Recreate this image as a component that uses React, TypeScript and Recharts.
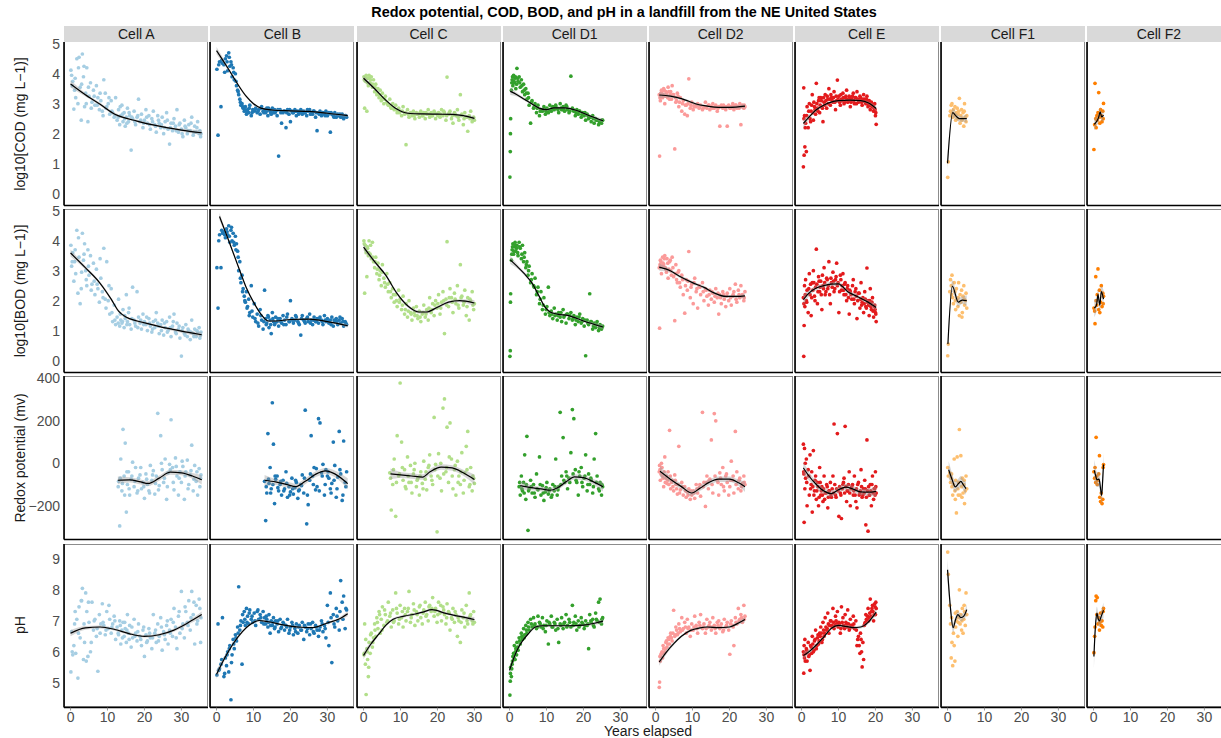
import React from 'react';
import { ComposedChart, Scatter, Line, Area, XAxis, YAxis } from 'recharts';

// [years elapsed, log10 COD, log10 BOD, redox (mv), pH]; null = not measured
type Sample = [number, number | null, number | null, number | null, number | null];
// [years elapsed, smoothed value, half-width of the confidence ribbon]
type TrendPoint = [number, number, number];

const FONT = '"Liberation Sans", Arial, Helvetica, sans-serif';

const cellNames = ['Cell A', 'Cell B', 'Cell C', 'Cell D1', 'Cell D2', 'Cell E', 'Cell F1', 'Cell F2'];
const cellColors = ['#A6CEE3', '#1F78B4', '#B2DF8A', '#33A02C', '#FB9A99', '#E31A1C', '#FDBF6F', '#FF7F00'];
const measureTitles = ['log10[COD (mg L\u22121)]', 'log10[BOD (mg L\u22121)]', 'Redox potential (mv)', 'pH'];
const measureDomains: [number, number][] = [[-0.4, 5.06], [-0.4, 5.06], [-359, 411], [4.2, 9.48]];
const measureTicks = [[0, 1, 2, 3, 4, 5], [0, 1, 2, 3, 4, 5], [-200, 0, 200, 400], [5, 6, 7, 8, 9]];
const yearTicks = [0, 10, 20, 30];
const yearDomain: [number, number] = [-1.77, 37.2];

const cellA: Sample[] = [
  [0.1, 4.12, 3.85, null, 5.35], [0.3, 3.95, 3.15, null, 6.65], [0.6, 3.75, 3.6, null, 5.9], [0.9, 2.82, 2.65, null, 6.2],
  [1.1, 3.45, 3.3, null, 6.9], [1.4, 3.2, 2.9, null, 5.95], [1.7, 4.5, 4.35, null, 7.05], [2.0, 3.0, 2.25, null, 5.15],
  [2.3, 4.55, 3.45, null, 7.45], [2.6, 3.55, 1.9, null, 6.45], [2.9, 2.45, 2.4, null, 7.65], [3.2, 4.66, 4.25, null, 8.05],
  [3.5, 3.9, 3.35, null, 5.75], [3.8, 2.9, 3.9, null, 6.3], [4.1, 3.35, 3.0, null, 7.9], [4.4, 4.2, 2.5, null, 7.3],
  [4.7, 2.4, 3.7, null, 5.85], [5.0, 3.25, 2.85, null, 6.95], [5.4, 3.7, 3.5, null, 6.0], [5.8, 3.05, 2.55, null, 7.6],
  [6.2, 3.45, 3.25, null, 6.7], [6.6, 2.95, 2.2, null, 7.05], [7.0, 3.6, 3.05, null, 6.5], [7.4, 3.2, 2.4, null, 5.37],
  [7.8, 2.8, 1.95, null, 7.2], [8.2, 3.1, 2.75, null, 6.9], [8.6, 2.75, 2.3, null, 7.55], [9.0, 3.8, 3.75, null, 6.85],
  [9.4, 3.35, 2.05, null, 6.55], [9.8, 2.9, 3.3, null, 7.3], [10.2, 3.0, 2.0, null, 6.75], [10.6, 2.65, 1.55, null, 7.05],
  [11.0, 3.1, 2.4, null, 6.6], [11.4, 2.7, 1.3, null, 6.9], [11.8, 2.55, 1.85, null, 7.15], [12.2, 3.2, 1.2, null, 6.4],
  [12.6, 2.45, 1.45, null, 6.8], [13.0, 2.8, 2.05, -85, 6.55], [13.3, 2.3, 1.15, -295, 7.0], [13.6, 2.6, 1.35, 20, 6.25],
  [13.9, 2.95, 1.25, -130, 6.7], [14.2, 2.4, 1.7, 160, 6.95], [14.5, 2.7, 1.1, -60, 6.5], [14.8, 2.25, 1.4, 95, 6.75],
  [15.1, 2.55, 2.2, -230, 6.3], [15.4, 2.85, 1.3, -100, 7.2], [15.7, 2.4, 1.6, -40, 6.6], [16.0, 2.6, 1.2, -150, 6.85],
  [16.4, 1.45, 1.05, -75, 6.15], [16.8, 2.5, 2.45, 5, 6.45], [17.2, 2.75, 1.35, -110, 7.05], [17.6, 2.3, 1.15, -20, 6.6],
  [18.0, 2.55, 2.3, -140, 6.35], [18.4, 3.15, 1.45, -70, 6.9], [18.8, 2.4, 1.25, -55, 6.5], [19.2, 2.65, 1.05, -120, 6.2],
  [19.6, 2.2, 1.55, -90, 6.7], [20.0, 2.45, 1.3, -165, 5.85], [20.4, 2.8, 1.2, -50, 6.55], [20.8, 2.35, 1.0, -100, 6.35],
  [21.2, 2.6, 1.4, -130, 6.75], [21.6, 2.15, 1.15, -10, 6.45], [22.0, 2.5, 0.95, -80, 6.1], [22.4, 2.75, 1.3, -35, 7.2],
  [22.8, 2.3, 1.1, -145, 6.6], [23.2, 2.05, 1.6, -60, 6.3], [23.6, 2.6, 1.25, 235, 6.9], [24.0, 2.35, 0.9, -105, 6.5],
  [24.4, 2.2, 1.2, 130, 7.1], [24.8, 2.55, 1.35, -30, 6.05], [25.2, 2.0, 0.85, -90, 6.65], [25.6, 2.4, 1.1, 20, 6.4],
  [26.0, 2.7, 1.3, -170, 6.85], [26.4, 2.15, 1.0, -45, 6.25], [26.8, 1.65, 1.45, -5, 6.7], [27.2, 2.35, 0.8, 205, 7.05],
  [27.6, 2.1, 1.15, -20, 6.5], [28.0, 2.5, 1.55, -125, 7.4], [28.4, 2.25, 0.95, 25, 6.8], [28.8, 2.8, 1.25, -60, 6.1],
  [29.2, 2.05, 1.05, -150, 7.15], [29.6, 2.35, 0.75, -40, 6.6], [30.0, 2.15, 0.15, -90, 7.95], [30.4, 1.9, 1.1, -15, 6.9],
  [30.8, 2.45, 0.9, -170, 6.45], [31.2, 2.2, 1.2, -40, 7.3], [31.6, 2.0, 0.8, 15, 6.95], [32.0, 2.3, 1.0, -100, 7.65],
  [32.4, 2.1, 0.7, -55, 6.7], [32.8, 2.55, 1.35, 85, 7.95], [33.2, 1.95, 0.9, -130, 7.2], [33.6, 2.25, 1.05, -10, 6.25],
  [34.0, 2.05, 0.8, -85, 7.5], [34.4, 2.4, 0.95, -150, 7.0], [34.8, 2.0, 1.1, -25, 7.7], [35.2, 1.9, 0.85, -70, 6.3],
  [0.45, 3.6, 3.3, null, 6.0], [1.25, 3.85, 3.7, null, 7.3], [2.15, 4.2, 4.1, null, 6.6], [3.0, 3.65, 2.95, null, 7.65],
  [3.65, 4.25, 3.55, null, 6.9], [4.25, 3.0, 2.7, null, 5.7], [4.85, 3.55, 3.15, null, 7.6], [5.6, 2.85, 2.35, null, 6.3],
  [6.4, 3.25, 2.65, null, 7.0], [7.2, 2.95, 2.55, null, 6.75], [8.0, 3.35, 3.4, null, 6.6], [8.8, 2.6, 2.1, null, 6.95],
  [9.6, 2.85, 1.75, null, 6.7], [10.4, 3.2, 2.5, null, 7.5], [11.2, 2.75, 1.6, null, 6.8], [12.0, 2.6, 1.35, null, 7.0],
  [12.9, 2.55, 1.25, -110, 6.6], [13.45, 2.9, 1.55, -70, 6.85], [14.05, 2.65, 1.3, -95, 6.45], [14.65, 2.5, 1.5, -150, 6.95],
  [15.25, 2.35, 1.2, -40, 6.7], [15.85, 2.7, 1.75, -120, 6.4], [16.6, 2.55, 1.4, -60, 6.8], [17.4, 2.4, 1.25, -85, 6.5],
  [18.2, 2.6, 1.1, -130, 6.65], [19.0, 2.45, 1.35, -20, 6.4], [19.8, 2.35, 1.2, -110, 6.8], [20.6, 2.55, 1.45, -75, 6.3],
  [21.4, 2.3, 1.25, -140, 6.6], [22.2, 2.4, 1.05, -55, 6.45], [23.0, 2.25, 1.35, -95, 6.7], [23.8, 2.45, 1.15, -125, 6.35],
  [24.6, 2.3, 1.0, 0, 6.8], [25.4, 2.2, 1.25, -70, 6.55], [26.2, 2.45, 0.95, -110, 7.0], [27.0, 2.2, 1.1, -30, 6.6],
  [27.8, 2.35, 1.3, -90, 6.95], [28.6, 2.1, 0.9, -15, 6.45], [29.4, 2.3, 1.15, -70, 7.3], [30.2, 2.0, 1.0, 10, 6.75],
  [31.0, 2.25, 0.85, -60, 7.45], [31.8, 2.1, 1.05, -120, 6.85], [32.6, 2.35, 0.95, -35, 7.1], [33.4, 2.05, 0.8, -75, 7.6],
  [34.2, 2.2, 1.0, -40, 6.9], [35.0, 2.1, 0.75, -110, 7.4], [35.3, 2.0, 0.95, -55, 7.1],
];

const cellB: Sample[] = [
  [0.1, 4.15, 3.1, null, 5.25], [0.4, 1.95, 1.75, null, 6.9], [0.8, 4.4, 4.2, null, 5.45], [1.2, 2.9, 3.1, null, 5.6],
  [1.6, 4.35, 4.25, null, 7.1], [2.0, 4.3, 4.3, null, 5.2], [2.4, 4.5, 4.1, null, 5.8], [2.7, 4.6, 4.4, null, 5.55],
  [3.0, 4.1, 4.2, null, 6.0], [3.3, 4.7, 4.5, null, 5.35], [3.6, 4.25, 3.95, null, 6.2], [3.9, 4.4, 4.35, null, 4.45],
  [4.2, 3.9, 4.0, null, 5.9], [4.5, 4.2, 4.25, null, 6.4], [4.8, 3.8, 3.85, null, 6.1], [5.1, 4.0, 4.15, null, 6.55],
  [5.4, 3.6, 3.9, null, 6.35], [5.7, 3.45, 3.65, null, 6.8], [6.0, 3.3, 3.0, null, 8.1], [6.3, 3.15, 3.3, null, 6.7],
  [6.6, 2.95, 2.6, null, 7.0], [6.9, 3.0, 2.85, null, 5.6], [7.2, 2.85, 2.4, null, 6.95], [7.5, 2.75, 2.15, null, 7.3],
  [7.8, 2.9, 1.95, null, 6.85], [8.1, 2.65, 2.3, null, 7.4], [8.4, 2.8, 1.8, null, 7.15], [8.7, 2.7, 2.05, null, 6.9],
  [9.0, 2.95, 1.6, null, 7.35], [9.4, 2.6, 2.5, null, 7.05], [9.8, 2.8, 1.45, null, 6.95], [10.2, 2.75, 1.9, null, 7.25],
  [10.6, 2.85, 1.3, null, 6.85], [11.0, 2.7, 1.55, null, 7.3], [11.4, 2.8, 1.15, null, 7.05], [11.8, 2.65, 1.7, null, 7.2],
  [12.2, 2.9, 1.35, null, 6.95], [12.6, 2.75, 1.05, null, 7.3], [13.0, 2.8, 2.35, -85, 7.1], [13.3, 2.7, 1.4, -270, 6.9],
  [13.6, 2.85, 1.25, -140, 7.05], [13.9, 2.6, 1.5, 140, 6.8], [14.2, 2.8, 1.1, -95, 7.2], [14.5, 2.75, 1.35, -20, 6.6],
  [14.8, 2.65, 0.9, -120, 7.0], [15.1, 2.85, 1.6, 285, 6.85], [15.4, 2.7, 1.3, 90, 7.1], [15.7, 2.8, 1.2, -190, 6.75],
  [16.0, 2.75, 1.45, -75, 7.0], [16.4, 2.6, 1.3, -60, 6.9], [16.8, 1.25, 1.15, -130, 6.65], [17.2, 2.8, 1.4, -100, 7.05],
  [17.6, 2.35, 1.25, -150, 6.8], [18.0, 2.7, 1.5, -80, 6.95], [18.4, 2.75, 1.35, -120, 6.7], [18.8, 2.2, 1.2, -40, 6.85],
  [19.2, 2.8, 1.55, -160, 7.05], [19.6, 2.65, 1.3, -110, 6.6], [20.0, 2.4, 2.0, -135, 6.8], [20.4, 2.75, 1.4, -70, 6.95],
  [20.8, 2.7, 1.25, -145, 6.55], [21.2, 2.8, 1.35, -115, 6.75], [21.6, 2.6, 1.45, -90, 6.9], [22.0, 2.75, 1.3, -165, 6.6],
  [22.4, 2.7, 1.2, -125, 6.85], [22.8, 2.8, 0.85, -100, 6.7], [23.2, 2.65, 1.5, -55, 6.95], [23.6, 2.75, 1.35, -140, 6.4],
  [24.0, 2.7, 1.25, 250, 6.8], [24.4, 2.6, 1.4, -285, 6.65], [24.8, 2.75, 1.3, -195, 6.9], [25.2, 2.8, 1.55, -80, 6.55],
  [25.6, 2.7, 1.35, 130, 6.75], [26.0, 2.65, 1.2, -60, 6.95], [26.4, 2.75, 1.45, -20, 6.6], [26.8, 2.55, 1.3, -125, 6.85],
  [27.2, 2.1, 1.4, -110, 6.7], [27.6, 2.7, 1.25, 210, 6.5], [28.0, 2.75, 1.45, 190, 6.8], [28.4, 2.6, 1.35, -45, 7.0],
  [28.8, 2.7, 1.2, -5, 6.65], [29.2, 2.65, 1.5, -150, 6.85], [29.6, 2.75, 1.3, -30, 6.45], [30.0, 2.6, 1.4, -60, 7.5],
  [30.4, 2.7, 1.25, -70, 6.2], [30.8, 2.05, 1.35, -120, 7.9], [31.2, 2.65, 1.45, -95, 5.65], [31.6, 2.6, 1.15, 100, 7.2],
  [32.0, 2.7, 1.3, -10, 6.8], [32.4, 2.55, 1.4, -160, 7.4], [32.8, 2.65, 1.2, -65, 7.0], [33.2, 2.6, 1.35, 150, 6.7],
  [33.6, 2.55, 1.25, -50, 8.3], [34.0, 2.65, 1.4, -175, 7.6], [34.4, 2.5, 1.15, 105, 7.8], [34.8, 2.6, 1.3, -90, 6.75],
  [35.2, 2.55, 1.2, -40, 7.35],
  [0.6, 4.3, 4.0, null, 5.4], [1.4, 4.45, 4.35, null, 5.75], [2.2, 4.05, 4.2, null, 5.3], [2.85, 4.4, 4.3, null, 5.9],
  [3.45, 4.55, 4.15, null, 6.1], [4.05, 4.3, 4.45, null, 5.65], [4.65, 4.05, 3.95, null, 6.25], [5.25, 3.75, 3.7, null, 6.45],
  [5.85, 3.4, 3.45, null, 6.6], [6.45, 3.05, 2.75, null, 6.85], [7.05, 2.9, 2.3, null, 7.2], [7.65, 2.8, 2.0, null, 7.05],
  [8.25, 2.7, 1.75, null, 6.95], [8.85, 2.85, 1.5, null, 7.25], [9.6, 2.7, 1.65, null, 7.15], [10.4, 2.8, 1.4, null, 7.0],
  [11.2, 2.75, 1.25, null, 7.35], [12.0, 2.85, 1.5, null, 7.1], [12.8, 2.7, 1.3, null, 6.9], [13.45, 2.75, 1.2, -110, 7.15],
  [14.05, 2.85, 1.45, -75, 6.95], [14.65, 2.7, 1.2, -140, 6.85], [15.25, 2.8, 1.4, -100, 6.95], [15.85, 2.7, 1.25, -60, 6.8],
  [16.6, 2.8, 1.4, -115, 7.0], [17.4, 2.7, 1.3, -85, 6.75], [18.2, 2.75, 1.2, -130, 6.9], [19.0, 2.7, 1.45, -95, 6.8],
  [19.8, 2.8, 1.3, -150, 6.7], [20.6, 2.7, 1.35, -120, 6.85], [21.4, 2.75, 1.5, -80, 6.65], [22.2, 2.65, 1.25, -130, 6.8],
  [23.0, 2.75, 1.4, -105, 6.7], [23.8, 2.7, 1.3, -70, 6.85], [24.6, 2.8, 1.45, -150, 6.75], [25.4, 2.65, 1.25, -50, 6.9],
  [26.2, 2.75, 1.35, -100, 6.65], [27.0, 2.7, 1.3, -25, 6.8], [27.8, 2.65, 1.4, -130, 6.7], [28.6, 2.7, 1.3, -60, 6.9],
  [29.4, 2.6, 1.35, -100, 6.75], [30.2, 2.65, 1.3, -40, 6.95], [31.0, 2.7, 1.2, -140, 7.1], [31.8, 2.55, 1.35, -80, 6.9],
  [32.6, 2.6, 1.3, -120, 7.15], [33.4, 2.65, 1.45, -30, 7.3], [34.2, 2.55, 1.3, -150, 7.05], [35.0, 2.6, 1.25, -110, 7.4],
];

const cellC: Sample[] = [
  [0.1, 3.9, 4.0, null, 5.9], [0.3, 2.85, 2.25, null, 6.9], [0.5, 3.75, 3.85, null, 5.6], [0.7, 3.95, 3.6, null, 4.62],
  [0.9, 2.75, 2.8, null, 6.1], [1.1, 3.85, 3.75, null, 5.75], [1.3, 3.6, 3.5, null, 5.2], [1.5, 3.95, 4.0, null, 6.3],
  [1.8, 3.7, 3.55, null, 5.95], [2.1, 3.9, 3.4, null, 6.6], [2.4, 3.55, 3.95, null, 6.15], [2.7, 3.8, 3.3, null, 6.45],
  [3.0, 3.4, 3.1, null, 6.9], [3.3, 3.65, 3.45, null, 6.5], [3.6, 3.3, 2.9, null, 7.1], [3.9, 3.5, 3.25, null, 6.75],
  [4.2, 3.2, 2.7, null, 7.3], [4.5, 3.45, 3.0, null, 6.6], [4.8, 3.1, 2.5, null, 7.05], [5.1, 3.35, 3.2, null, 7.45],
  [5.5, 3.0, 2.75, null, 6.85], [5.9, 3.25, 2.45, null, 7.2], [6.3, 3.05, 2.9, null, 6.95], [6.7, 2.95, 2.3, null, 7.6],
  [7.1, 3.15, 2.6, -45, 7.15], [7.5, 2.85, 2.1, -220, 6.8], [7.9, 3.0, 2.4, -100, 7.35], [8.3, 2.8, 1.95, 20, 7.0],
  [8.7, 2.95, 2.2, -250, 7.9], [9.1, 2.7, 1.8, 130, 7.25], [9.5, 2.85, 2.35, -60, 6.9], [9.9, 2.75, 2.05, 378, 7.5],
  [10.3, 2.6, 1.7, 100, 7.1], [10.7, 2.9, 2.15, -80, 6.8], [11.1, 2.65, 1.55, -30, 7.4], [11.5, 1.63, 1.9, -120, 7.0],
  [11.9, 2.8, 1.45, 30, 7.3], [12.3, 2.55, 2.0, -90, 7.95], [12.7, 2.7, 1.6, -10, 6.95], [13.1, 2.6, 1.35, -140, 7.2],
  [13.5, 2.75, 1.75, -50, 7.55], [13.9, 2.5, 1.5, 0, 6.85], [14.3, 2.7, 1.8, -110, 7.3], [14.7, 2.65, 1.4, -70, 7.0],
  [15.1, 2.55, 1.65, -150, 7.45], [15.5, 2.75, 1.3, -40, 7.1], [15.9, 2.6, 1.55, -95, 6.9], [16.3, 2.7, 1.85, 10, 7.35],
  [16.7, 2.5, 1.45, -75, 7.6], [17.1, 2.65, 1.7, -125, 7.2], [17.5, 2.8, 1.35, -20, 7.0], [17.9, 2.55, 2.1, 40, 7.5],
  [18.3, 2.7, 1.6, -60, 7.3], [18.7, 2.6, 1.9, -100, 7.75], [19.1, 2.75, 1.5, 216, 7.15], [19.5, 2.5, 2.0, -5, 7.4],
  [19.9, 2.65, 1.75, -323, 6.95], [20.3, 2.7, 2.2, 45, 7.6], [20.7, 2.55, 1.55, -70, 7.25], [21.1, 2.8, 1.95, -130, 7.0],
  [21.5, 2.6, 2.3, 260, 7.45], [21.9, 2.7, 0.9, 303, 7.2], [22.3, 2.45, 2.05, -40, 6.9], [22.6, 3.89, 3.97, 170, 7.55],
  [23.0, 2.65, 1.8, -90, 7.3], [23.4, 2.75, 2.4, 190, 6.7], [23.8, 2.5, 2.1, 20, 7.1], [24.2, 2.35, 1.6, -120, 7.4],
  [24.6, 2.7, 2.25, -30, 6.95], [25.0, 2.6, 1.9, -150, 7.2], [25.4, 2.8, 2.5, 10, 6.5], [25.8, 2.45, 1.75, -60, 7.0],
  [26.2, 3.3, 3.2, -100, 6.3], [26.6, 2.65, 2.15, 50, 7.35], [27.0, 2.3, 1.85, -140, 7.1], [27.4, 2.7, 2.35, -45, 6.8],
  [27.8, 2.55, 1.5, 80, 7.5], [28.2, 2.08, 2.1, 150, 6.9], [28.6, 2.6, 1.35, -110, 7.9], [29.0, 2.75, 2.0, -20, 7.2],
  [29.4, 2.4, 2.3, -130, 7.0], [29.8, 2.55, 1.7, -70, 7.3], [30.0, 2.45, 1.9, -95, 6.95],
  [0.2, 3.8, 3.9, null, 5.95], [0.6, 3.9, 3.7, null, 6.4], [1.0, 3.7, 3.8, null, 6.0], [1.4, 3.85, 3.6, null, 5.5],
  [1.9, 3.8, 3.85, null, 6.55], [2.5, 3.65, 3.45, null, 6.3], [3.1, 3.55, 3.3, null, 6.7], [3.75, 3.35, 3.05, null, 6.95],
  [4.35, 3.3, 2.85, null, 7.2], [5.0, 3.2, 2.95, null, 6.7], [5.7, 3.15, 2.6, null, 7.35], [6.5, 3.0, 2.55, null, 7.0],
  [7.3, 2.9, 2.3, -70, 7.25], [8.1, 2.85, 2.2, -30, 6.95], [8.9, 2.8, 2.0, -90, 7.4], [9.7, 2.7, 1.95, -50, 7.05],
  [10.5, 2.75, 1.85, -20, 7.3], [11.3, 2.7, 1.7, -110, 7.2], [12.1, 2.65, 1.65, -60, 7.4], [12.9, 2.7, 1.55, -90, 7.1],
  [13.7, 2.6, 1.6, -30, 7.35], [14.5, 2.65, 1.5, -80, 7.2], [15.3, 2.7, 1.45, -60, 7.5], [16.1, 2.6, 1.6, -120, 7.25],
  [16.9, 2.7, 1.55, -40, 7.15], [17.7, 2.65, 1.75, -10, 7.45], [18.5, 2.6, 1.7, -80, 7.4], [19.3, 2.7, 1.85, -30, 7.3],
  [20.1, 2.6, 1.9, -60, 7.2], [20.9, 2.65, 1.75, 0, 7.5], [21.7, 2.75, 2.0, -50, 7.35], [22.5, 2.6, 1.85, -20, 7.1],
  [23.2, 2.7, 2.1, 30, 7.25], [24.0, 2.6, 1.95, -60, 7.05], [24.8, 2.65, 2.05, -10, 7.3], [25.6, 2.55, 1.85, -90, 7.1],
  [26.4, 2.6, 2.1, -40, 6.95], [27.2, 2.5, 1.95, -80, 7.25], [28.0, 2.55, 1.8, -30, 7.0], [28.8, 2.5, 2.05, -100, 7.15],
  [29.6, 2.45, 1.85, -60, 6.9],
];

const cellD1: Sample[] = [
  [0.1, 0.55, 0.14, null, 4.6], [0.2, 1.4, 0.33, null, 5.05], [0.25, 2.0, 1.95, null, 5.3], [0.3, 2.5, 2.23, null, 5.5],
  [0.5, 3.45, 3.35, null, 5.2], [0.7, 3.8, 3.7, null, 5.6], [0.9, 3.6, 3.9, null, 5.85], [1.1, 3.95, 3.55, null, 5.95],
  [1.3, 3.7, 3.8, null, 6.2], [1.5, 3.85, 3.95, null, 5.75], [1.7, 3.5, 3.65, null, 6.1], [2.0, 4.18, 3.85, null, 6.3],
  [2.3, 3.75, 3.5, null, 6.05], [2.6, 3.9, 3.95, -110, 6.45], [2.9, 3.55, 3.75, -150, 6.25], [3.2, 3.8, 3.4, -60, 6.6],
  [3.5, 3.4, 3.85, -130, 6.4], [3.8, 3.65, 3.3, -90, 6.75], [4.1, 3.3, 3.6, 40, 6.55], [4.4, 3.5, 3.1, -170, 6.85],
  [4.7, 3.15, 3.3, 127, 6.6], [5.0, 3.35, 2.85, -316, 6.95], [5.3, 2.95, 3.15, -120, 6.7], [5.7, 2.35, 2.6, -80, 7.05],
  [6.1, 3.1, 2.9, -140, 6.8], [6.5, 2.85, 2.5, -100, 7.1], [6.9, 3.0, 2.75, -160, 6.9], [7.3, 2.7, 2.2, -50, 6.75],
  [7.7, 2.95, 2.45, -125, 7.15], [8.1, 2.6, 1.9, 30, 6.95], [8.5, 2.8, 2.3, -150, 6.8], [8.9, 2.75, 1.7, -105, 7.1],
  [9.3, 2.9, 2.1, -175, 6.85], [9.7, 2.65, 1.55, -135, 6.65], [10.1, 2.85, 1.8, -90, 7.0], [10.5, 2.7, 2.45, -145, 6.25],
  [10.9, 2.95, 1.5, -120, 6.9], [11.3, 2.75, 1.65, -160, 7.15], [11.7, 2.9, 1.4, -100, 6.8], [12.1, 2.8, 1.75, -130, 6.95],
  [12.5, 2.95, 1.55, 20, 6.7], [12.9, 2.85, 1.35, -150, 7.05], [13.3, 2.7, 1.6, -110, 6.3], [13.7, 3.0, 1.45, 240, 6.9],
  [14.1, 2.8, 1.3, -60, 7.1], [14.5, 2.9, 1.7, 121, 6.75], [14.9, 2.75, 1.5, -90, 6.95], [15.3, 2.95, 1.25, -40, 7.2],
  [15.7, 2.8, 1.55, -120, 6.85], [16.1, 2.7, 1.4, -70, 7.05], [16.6, 3.92, 1.6, 50, 6.8], [17.0, 2.85, 1.35, 253, 7.5],
  [17.4, 2.75, 1.5, 210, 6.95], [17.8, 2.6, 1.2, -30, 7.15], [18.2, 2.8, 1.45, -90, 6.7], [18.6, 2.65, 1.3, -150, 7.0],
  [19.0, 2.75, 1.55, -60, 6.85], [19.4, 2.55, 1.25, -20, 7.1], [19.8, 2.7, 1.4, -110, 6.9], [20.2, 2.6, 1.15, -70, 6.75],
  [20.6, 2.45, 0.16, 40, 7.0], [21.0, 2.65, 1.35, -130, 6.85], [21.4, 2.5, 1.2, -50, 6.1], [21.7, 2.55, 2.23, -100, 7.2],
  [22.1, 2.4, 1.3, -80, 6.95], [22.5, 2.6, 1.05, -140, 7.05], [22.9, 2.35, 1.25, 20, 6.8], [23.3, 2.5, 1.1, 140, 7.25],
  [23.7, 2.45, 1.3, -60, 7.0], [24.1, 2.3, 1.0, -120, 7.6], [24.5, 2.4, 1.2, -90, 7.7], [24.9, 2.35, 1.05, -150, 6.9],
  [25.2, 2.45, 1.15, -110, 7.1],
  [0.6, 3.7, 3.55, null, 5.45], [0.8, 3.9, 3.8, null, 5.7], [1.2, 3.75, 3.65, null, 5.8], [1.6, 3.9, 3.85, null, 6.0],
  [1.9, 3.65, 3.75, null, 5.9], [2.2, 3.85, 3.6, null, 6.15], [2.75, 3.7, 3.8, -90, 6.35], [3.35, 3.6, 3.55, -120, 6.5],
  [3.95, 3.45, 3.45, -140, 6.45], [4.55, 3.35, 3.2, -100, 6.7], [5.15, 3.2, 3.0, -130, 6.8], [5.9, 3.05, 2.7, -110, 6.9],
  [6.7, 2.9, 2.45, -140, 6.85], [7.5, 2.85, 2.3, -120, 6.8], [8.3, 2.75, 2.05, -100, 6.9], [9.1, 2.8, 1.85, -140, 6.75],
  [9.9, 2.75, 1.7, -115, 6.85], [10.7, 2.8, 1.6, -130, 6.95], [11.5, 2.85, 1.55, -150, 6.8], [12.3, 2.9, 1.5, -110, 6.9],
  [13.1, 2.8, 1.5, -125, 6.75], [13.9, 2.85, 1.6, -100, 6.85], [14.7, 2.8, 1.45, -80, 6.9], [15.5, 2.9, 1.55, -60, 6.8],
  [16.3, 2.75, 1.5, -90, 6.95], [17.2, 2.8, 1.4, -50, 6.85], [18.0, 2.7, 1.35, -80, 6.9], [18.8, 2.75, 1.45, -40, 6.8],
  [19.6, 2.65, 1.3, -90, 6.95], [20.4, 2.7, 1.35, -60, 6.85], [21.2, 2.6, 1.25, -100, 6.9], [22.0, 2.55, 1.3, -70, 7.0],
  [22.7, 2.5, 1.15, -110, 6.85], [23.5, 2.45, 1.2, -90, 7.05], [24.3, 2.4, 1.1, -130, 6.95], [25.0, 2.45, 1.1, -100, 7.05],
];

const cellD2: Sample[] = [
  [1.0, 3.3, 3.1, -40, 4.85], [1.1, 1.25, 1.08, -10, 5.02], [1.3, 3.1, 3.35, -80, 5.7], [1.6, 3.45, 2.9, 0, 5.95],
  [1.9, 3.2, 3.45, -60, 5.8], [2.2, 3.5, 3.2, -110, 6.1], [2.5, 3.0, 3.5, 30, 6.0], [2.8, 3.4, 3.05, -70, 6.3],
  [3.1, 3.25, 3.4, -95, 6.15], [3.4, 3.55, 2.75, -40, 6.45], [3.8, 3.15, 3.3, 155, 6.25], [4.1, 3.4, 3.0, -120, 6.6],
  [4.5, 3.6, 3.45, -80, 6.35], [4.9, 3.3, 2.8, -130, 7.34], [5.2, 1.49, 1.33, -55, 6.5], [5.5, 3.05, 3.2, -100, 6.8],
  [5.9, 3.35, 2.6, -145, 6.55], [6.3, 2.9, 3.0, 80, 6.9], [6.7, 3.2, 2.45, -125, 6.65], [7.1, 2.75, 2.85, -90, 7.1],
  [7.5, 3.1, 2.2, -150, 6.75], [7.9, 2.65, 1.58, -110, 6.95], [8.3, 2.95, 2.7, -160, 6.6], [8.6, 2.6, 2.35, -135, 7.05],
  [9.0, 3.83, 3.64, -120, 6.8], [9.4, 2.85, 2.1, -170, 6.5], [9.8, 3.05, 2.55, -150, 6.9], [10.2, 2.8, 1.9, -130, 6.7],
  [10.6, 2.95, 2.75, -165, 7.15], [11.0, 2.9, 2.3, -100, 6.85], [11.4, 3.0, 1.75, -140, 6.6], [11.8, 2.85, 2.5, -115, 6.95],
  [12.2, 2.95, 2.2, -155, 7.2], [12.7, 2.8, 2.6, 240, 6.75], [13.1, 2.9, 2.0, -90, 6.9], [13.5, 3.05, 2.4, -203, 6.6],
  [13.9, 2.85, 2.15, -60, 7.05], [14.3, 2.95, 1.85, -120, 6.8], [14.7, 2.8, 2.35, -75, 6.95], [15.1, 2.9, 2.05, 110, 6.7],
  [15.5, 3.0, 2.25, -140, 7.1], [15.9, 2.85, 1.95, 234, 6.85], [16.3, 2.95, 2.4, 200, 6.6], [16.7, 2.75, 2.1, -80, 6.95],
  [17.1, 2.9, 1.55, -150, 7.0], [17.4, 2.25, 2.2, -45, 6.75], [17.8, 2.95, 1.9, -100, 6.9], [18.2, 2.85, 2.3, -20, 6.65],
  [18.6, 2.9, 2.05, -130, 7.05], [19.0, 2.8, 1.8, -60, 6.8], [19.4, 2.25, 2.25, -90, 6.95], [19.8, 2.95, 2.0, -150, 6.7],
  [20.1, 2.85, 2.4, -110, 5.92], [20.5, 2.9, 1.85, 10, 7.0], [20.9, 3.0, 2.15, -80, 6.85], [21.2, 2.8, 2.3, -140, 6.2],
  [21.6, 2.95, 2.55, 150, 7.1], [22.0, 2.85, 1.95, -40, 6.9], [22.4, 2.9, 2.35, -120, 7.4], [22.8, 3.0, 2.1, -70, 7.05],
  [23.1, 2.3, 2.5, -130, 7.2], [23.5, 2.95, 2.2, -95, 6.95], [23.9, 2.85, 2.0, -60, 7.5], [24.2, 2.9, 2.3, -100, 7.15],
  [1.2, 3.2, 3.2, -30, 5.85], [1.45, 3.35, 3.3, -50, 5.9], [1.75, 3.4, 3.15, -20, 6.0], [2.05, 3.3, 3.25, -70, 6.2],
  [2.35, 3.45, 3.4, -40, 5.95], [2.65, 3.25, 3.1, -90, 6.1], [2.95, 3.35, 2.95, -60, 6.35], [3.3, 3.2, 3.25, -80, 6.25],
  [3.6, 3.4, 3.05, -100, 6.4], [4.0, 3.3, 3.35, -60, 6.5], [4.3, 3.15, 2.85, -90, 6.45], [4.7, 3.3, 3.1, -110, 6.6],
  [5.35, 3.2, 2.9, -80, 6.55], [5.7, 3.1, 2.7, -120, 6.7], [6.1, 3.25, 2.95, -100, 6.6], [6.5, 3.05, 2.6, -140, 6.75],
  [7.3, 3.0, 2.7, -110, 6.7], [8.1, 2.95, 2.5, -130, 6.8], [8.8, 3.0, 2.65, -150, 6.75], [9.6, 2.95, 2.45, -130, 6.7],
  [10.4, 2.9, 2.6, -140, 6.8], [11.2, 2.95, 2.4, -120, 6.75], [12.0, 2.9, 2.45, -100, 6.85], [12.9, 2.85, 2.3, -110, 6.8],
  [13.7, 2.9, 2.35, -90, 6.75], [14.5, 2.95, 2.2, -80, 6.85], [15.3, 2.85, 2.3, -100, 6.8], [16.1, 2.9, 2.15, -60, 6.75],
  [16.9, 2.85, 2.25, -90, 6.85], [17.6, 2.9, 2.1, -70, 6.8], [18.4, 2.95, 2.2, -110, 6.7], [19.2, 2.9, 2.15, -50, 6.85],
  [20.3, 2.85, 2.1, -80, 6.9], [21.0, 2.9, 2.2, -60, 6.8], [21.8, 2.95, 2.05, -100, 6.95], [22.6, 2.85, 2.2, -80, 7.0],
  [23.3, 2.9, 2.15, -110, 7.1], [24.0, 2.95, 2.1, -90, 7.05],
];

const cellE: Sample[] = [
  [0.5, 0.89, 2.1, 90, 6.0], [0.6, 3.53, 0.14, -40, 5.31], [0.7, 1.28, 1.17, -278, 6.2], [0.8, 2.6, 2.5, 70, 5.8],
  [0.9, 1.56, 1.8, -120, 6.4], [1.1, 2.35, 2.7, -70, 5.95], [1.3, 1.4, 2.0, 20, 6.1], [1.5, 2.9, 2.35, -200, 5.7],
  [1.8, 2.2, 1.6, -30, 6.3], [2.1, 3.0, 2.9, -150, 5.9], [2.3, 2.5, 2.2, 40, 5.4], [2.6, 2.75, 1.5, -100, 6.15],
  [2.9, 3.3, 2.6, -230, 6.5], [3.2, 2.45, 3.0, 60, 6.0], [3.5, 2.9, 2.15, -130, 6.35], [3.8, 2.65, 2.45, -60, 6.7],
  [4.0, 3.68, 3.72, -170, 6.1], [4.3, 2.85, 1.9, -90, 6.45], [4.6, 3.1, 2.8, -200, 6.25], [4.9, 2.7, 2.3, -20, 6.6],
  [5.2, 3.2, 2.65, -150, 6.8], [5.5, 2.9, 1.7, -110, 6.3], [5.8, 2.4, 2.5, -180, 6.95], [6.1, 3.05, 3.1, -60, 6.5],
  [6.4, 3.3, 2.2, -140, 7.1], [6.8, 2.85, 2.75, -100, 6.7], [7.1, 3.15, 2.4, -210, 7.25], [7.4, 3.5, 3.3, -130, 6.6],
  [7.8, 2.95, 1.9, -90, 7.0], [8.1, 3.2, 2.6, -160, 6.85], [8.5, 3.05, 2.95, -60, 7.4], [8.8, 3.4, 2.3, 185, 6.75],
  [9.2, 2.8, 2.7, -150, 7.15], [9.5, 3.1, 3.25, -120, 6.9], [9.7, 3.79, 2.5, 140, 7.3], [10.1, 3.25, 1.6, -250, 6.95],
  [10.5, 2.95, 2.85, -140, 6.6], [10.8, 3.15, 2.35, -260, 7.45], [11.2, 3.35, 2.9, -100, 7.1], [11.5, 3.0, 2.2, -70, 6.8],
  [11.8, 3.2, 2.6, 174, 7.2], [12.2, 3.45, 2.0, -180, 6.9], [12.5, 3.05, 2.5, -130, 7.35], [12.9, 3.25, 1.55, -40, 6.7],
  [13.2, 2.9, 2.3, -200, 7.05], [13.6, 3.15, 2.05, -110, 6.85], [14.0, 3.35, 2.7, -150, 7.15], [14.3, 3.0, 1.9, -60, 6.75],
  [14.7, 3.2, 2.4, -180, 7.0], [15.0, 3.4, 1.4, -210, 6.2], [15.4, 3.05, 2.25, -90, 6.5], [15.8, 3.25, 1.75, -140, 5.95],
  [16.1, 3.1, 2.6, -30, 6.4], [16.4, 2.95, 1.95, -160, 5.51], [16.8, 3.3, 1.6, -120, 5.75], [17.1, 3.15, 2.3, -80, 6.9],
  [17.4, 3.0, 1.8, -290, 7.2], [17.7, 3.25, 3.09, 110, 7.0], [18.0, 2.9, 2.0, -320, 7.4], [18.3, 3.1, 1.5, -150, 7.1],
  [18.6, 2.8, 2.4, -100, 7.7], [18.9, 3.05, 1.7, -200, 7.3], [19.2, 2.95, 2.1, -60, 7.5], [19.5, 2.75, 1.45, -170, 7.0],
  [19.8, 3.0, 1.85, -120, 7.55], [20.0, 2.6, 1.6, -40, 7.2], [20.2, 2.31, 1.3, -140, 7.4],
  [0.65, 2.5, 1.9, -50, 5.9], [1.0, 2.2, 2.2, 0, 5.7], [1.4, 2.6, 1.95, -90, 6.05], [1.95, 2.75, 2.4, -60, 5.85],
  [2.45, 2.4, 2.55, -120, 6.2], [2.75, 2.95, 2.1, -40, 5.95], [3.05, 2.7, 2.35, -110, 6.25], [3.35, 3.05, 2.6, -150, 6.05],
  [3.65, 2.8, 2.0, -80, 6.4], [4.15, 3.0, 2.55, -130, 6.2], [4.45, 2.75, 2.3, -110, 6.55], [4.75, 3.2, 2.65, -160, 6.35],
  [5.05, 2.95, 2.45, -90, 6.5], [5.35, 3.1, 2.2, -130, 6.6], [5.65, 2.85, 2.85, -150, 6.4], [5.95, 3.2, 2.4, -120, 6.7],
  [6.25, 2.95, 2.6, -170, 6.6], [6.6, 3.1, 2.3, -140, 6.8], [6.95, 3.25, 2.7, -110, 6.75], [7.25, 3.0, 2.5, -160, 6.9],
  [7.6, 3.15, 2.2, -130, 6.85], [7.95, 3.3, 2.75, -150, 7.0], [8.3, 3.1, 2.45, -120, 6.8], [8.65, 3.2, 2.65, -140, 6.95],
  [9.0, 3.05, 2.4, -100, 6.85], [9.35, 3.25, 2.8, -160, 7.0], [9.9, 3.15, 2.6, -130, 6.8], [10.3, 3.05, 2.3, -110, 6.9],
  [10.65, 3.3, 2.7, -150, 6.75], [11.0, 3.1, 2.5, -120, 6.95], [11.35, 3.2, 2.35, -90, 6.85], [11.65, 3.05, 2.55, -140, 6.75],
  [12.0, 3.25, 2.2, -110, 6.95], [12.35, 3.15, 2.4, -130, 6.8], [12.7, 3.1, 2.1, -100, 6.9], [13.05, 3.2, 2.35, -140, 6.75],
  [13.4, 3.05, 2.2, -120, 6.85], [13.8, 3.25, 2.5, -100, 6.8], [14.15, 3.1, 2.05, -130, 6.9], [14.5, 3.2, 2.3, -150, 6.75],
  [14.85, 3.0, 2.15, -120, 6.7], [15.2, 3.15, 2.0, -100, 6.4], [15.6, 3.1, 2.25, -150, 6.2], [15.95, 3.2, 2.05, -130, 6.6],
  [16.25, 3.05, 1.85, -110, 6.0], [16.6, 3.15, 2.1, -150, 6.3], [16.95, 3.1, 1.9, -140, 6.85], [17.25, 3.05, 2.05, -120, 6.95],
  [17.55, 3.15, 1.75, -160, 7.05], [17.85, 3.0, 1.95, -130, 7.15], [18.15, 3.1, 1.85, -110, 7.0], [18.45, 2.95, 2.0, -150, 7.25],
  [18.75, 3.0, 1.8, -130, 7.15], [19.05, 2.9, 1.95, -100, 7.4], [19.35, 2.95, 1.65, -140, 7.3], [19.65, 2.85, 1.8, -120, 7.2],
  [19.9, 2.8, 1.7, -150, 7.45], [20.1, 2.7, 1.55, -110, 7.6],
];

const cellF1: Sample[] = [
  [0.05, 0.54, 0.16, -20, 9.22], [0.2, 1.06, 0.55, -60, 8.5], [0.6, 2.6, 2.3, -45, 7.5], [0.8, 2.75, 2.7, -90, 6.9],
  [1.0, 2.95, 2.5, -70, 5.8], [1.1, 2.7, 2.2, -50, 7.1], [1.2, 3.0, 2.85, -110, 6.3], [1.4, 2.55, 2.1, -150, 5.55],
  [1.6, 2.8, 1.9, -100, 6.6], [1.8, 2.65, 2.6, 20, 6.2], [2.0, 2.9, 2.3, -130, 5.7], [2.1, 2.6, 2.0, -170, 7.25],
  [2.2, 2.45, 1.7, -80, 6.8], [2.4, 2.7, 2.4, -234, 7.0], [2.6, 2.85, 2.05, 30, 7.3], [2.8, 2.5, 1.8, -120, 6.5],
  [2.9, 2.65, 2.1, -150, 6.95], [3.0, 2.75, 2.6, -90, 7.1], [3.2, 3.18, 1.5, 159, 8.0], [3.4, 2.35, 2.2, -150, 6.9],
  [3.6, 2.6, 1.95, 36, 7.2], [3.8, 2.8, 2.35, -110, 6.7], [3.9, 2.45, 1.45, -160, 7.0], [4.0, 2.5, 1.6, -70, 7.4],
  [4.2, 2.7, 2.15, -140, 6.6], [4.4, 2.25, 2.5, -100, 7.05], [4.5, 2.75, 2.05, -80, 7.5], [4.6, 3.0, 1.85, -190, 7.3],
  [4.8, 2.55, 2.0, -130, 6.85], [5.0, 2.4, 2.25, -60, 7.9], [5.2, 2.6, 1.75, -120, 7.2],
];

const cellF2: Sample[] = [
  [0.1, 1.47, 1.75, -40, 5.97], [0.3, 2.3, 1.65, -70, 6.5], [0.4, 3.68, 1.23, -20, 6.8], [0.6, 2.5, 2.8, -90, 7.65],
  [0.7, 2.2, 2.0, 122, 7.8], [0.9, 2.6, 1.85, -60, 7.2], [1.0, 2.45, 2.2, -100, 7.75], [1.2, 2.7, 3.06, -80, 6.9],
  [1.4, 3.37, 1.7, -50, 7.1], [1.6, 2.55, 2.35, 36, 6.7], [1.7, 2.35, 1.6, -160, 6.95], [1.9, 2.8, 1.95, -180, 7.25],
  [2.1, 2.6, 2.5, -140, 6.85], [2.3, 2.4, 1.8, -190, 7.0], [2.5, 2.75, 2.25, -170, 6.8], [2.6, 2.5, 1.9, -20, 7.3],
  [2.7, 3.01, 2.15, -6, 7.4],
];

// Smoothed trends (loess) per cell and measure
const trendACod: TrendPoint[] = [[0, 3.66, 0.12], [4, 3.3, 0.06], [8, 2.98, 0.05], [12, 2.65, 0.05], [14, 2.55, 0.04], [18, 2.42, 0.04], [22, 2.3, 0.04], [26, 2.2, 0.04], [30, 2.12, 0.05], [35.5, 2.03, 0.08]];
const trendABod: TrendPoint[] = [[0, 3.59, 0.12], [4, 3.1, 0.06], [8, 2.58, 0.05], [11, 2.05, 0.05], [13, 1.65, 0.05], [15, 1.45, 0.04], [18, 1.32, 0.04], [22, 1.2, 0.04], [26, 1.08, 0.04], [30, 0.98, 0.05], [35.5, 0.86, 0.08]];
const trendARedox: TrendPoint[] = [[12.8, -80, 18], [16, -78, 12], [19, -88, 12], [21, -95, 12], [24, -70, 12], [27, -42, 12], [30, -45, 12], [33, -60, 14], [35.5, -78, 22]];
const trendAPh: TrendPoint[] = [[0, 6.6, 0.1], [4, 6.77, 0.06], [8, 6.8, 0.05], [12, 6.72, 0.04], [16, 6.58, 0.04], [20, 6.5, 0.04], [24, 6.55, 0.04], [28, 6.7, 0.05], [32, 6.95, 0.06], [35.5, 7.2, 0.1]];

const trendBCod: TrendPoint[] = [[0, 4.77, 0.12], [3, 4.2, 0.07], [6, 3.6, 0.05], [8, 3.25, 0.04], [10, 3.0, 0.04], [12, 2.85, 0.03], [15, 2.79, 0.03], [20, 2.76, 0.03], [25, 2.74, 0.03], [30, 2.68, 0.03], [35.5, 2.6, 0.05]];
const trendBBod: TrendPoint[] = [[0.8, 4.81, 0.12], [3, 4.1, 0.07], [6, 3.1, 0.05], [8, 2.45, 0.05], [10, 1.95, 0.04], [12, 1.55, 0.04], [14, 1.32, 0.03], [16, 1.32, 0.03], [20, 1.37, 0.03], [25, 1.38, 0.03], [30, 1.3, 0.03], [35.5, 1.16, 0.06]];
const trendBRedox: TrendPoint[] = [[13, -80, 25], [16, -88, 14], [19, -100, 14], [21.5, -110, 14], [24, -85, 14], [27, -50, 14], [29.5, -36, 14], [32, -50, 16], [35.5, -96, 25]];
const trendBPh: TrendPoint[] = [[0, 5.27, 0.15], [2, 5.75, 0.08], [4.5, 6.26, 0.06], [7, 6.65, 0.05], [9, 6.87, 0.04], [11.5, 7.01, 0.04], [14, 6.97, 0.03], [18, 6.87, 0.03], [22, 6.8, 0.03], [26, 6.78, 0.03], [30, 6.93, 0.04], [33, 7.05, 0.05], [35.5, 7.23, 0.08]];

const trendCCod: TrendPoint[] = [[0, 3.85, 0.1], [3, 3.5, 0.05], [6, 3.12, 0.04], [9, 2.82, 0.04], [12, 2.68, 0.04], [16, 2.66, 0.03], [20, 2.65, 0.03], [24, 2.64, 0.04], [27, 2.6, 0.04], [30, 2.51, 0.07]];
const trendCBod: TrendPoint[] = [[0, 3.79, 0.12], [3, 3.3, 0.06], [6, 2.85, 0.05], [9, 2.25, 0.05], [12, 1.82, 0.05], [15, 1.62, 0.05], [17, 1.62, 0.05], [20, 1.78, 0.05], [23, 1.95, 0.05], [26, 2.0, 0.05], [30, 1.92, 0.1]];
const trendCRedox: TrendPoint[] = [[7.3, -50, 25], [10, -55, 14], [13, -60, 13], [16, -65, 13], [18, -40, 13], [21, -18, 13], [24, -22, 13], [27, -45, 14], [30, -77, 24]];
const trendCPh: TrendPoint[] = [[0, 5.88, 0.12], [2, 6.25, 0.07], [4, 6.55, 0.05], [6, 6.85, 0.05], [8, 7.05, 0.04], [11, 7.15, 0.04], [14, 7.22, 0.04], [16, 7.28, 0.04], [18.5, 7.36, 0.04], [22, 7.25, 0.04], [26, 7.14, 0.05], [30, 7.04, 0.08]];

const trendD1Cod: TrendPoint[] = [[0.2, 3.41, 0.12], [2, 3.3, 0.06], [4, 3.15, 0.05], [6, 3.0, 0.04], [8, 2.85, 0.04], [10, 2.8, 0.04], [12, 2.86, 0.03], [15, 2.86, 0.03], [18, 2.78, 0.03], [21, 2.63, 0.04], [25.3, 2.43, 0.07]];
const trendD1Bod: TrendPoint[] = [[0.2, 3.36, 0.14], [2, 3.15, 0.07], [4, 2.9, 0.06], [6, 2.6, 0.05], [8, 2.15, 0.05], [9.5, 1.8, 0.05], [11, 1.62, 0.04], [13, 1.55, 0.04], [16, 1.5, 0.04], [20, 1.32, 0.04], [25.3, 1.12, 0.08]];
const trendD1Redox: TrendPoint[] = [[2.9, -105, 20], [6, -115, 12], [9, -122, 11], [11, -127, 11], [13, -115, 11], [15.5, -85, 12], [17.5, -64, 12], [20, -68, 12], [23, -90, 14], [25.3, -111, 22]];
const trendD1Ph: TrendPoint[] = [[0, 5.4, 0.15], [1, 5.75, 0.08], [2, 6.04, 0.06], [3.5, 6.35, 0.05], [5, 6.57, 0.04], [7, 6.8, 0.04], [9, 6.84, 0.03], [12, 6.84, 0.03], [16, 6.84, 0.03], [20, 6.86, 0.04], [23, 6.92, 0.05], [25.3, 6.99, 0.08]];

const trendD2Cod: TrendPoint[] = [[1, 3.29, 0.1], [4, 3.25, 0.05], [7, 3.17, 0.04], [9, 3.08, 0.04], [11, 2.99, 0.04], [14, 2.92, 0.03], [17, 2.88, 0.03], [20, 2.88, 0.04], [24.2, 2.92, 0.07]];
const trendD2Bod: TrendPoint[] = [[1, 3.12, 0.12], [4, 3.0, 0.06], [7, 2.78, 0.05], [10, 2.6, 0.05], [13, 2.45, 0.05], [16, 2.25, 0.05], [19, 2.14, 0.05], [22, 2.14, 0.05], [24.2, 2.16, 0.09]];
const trendD2Redox: TrendPoint[] = [[1.2, -38, 25], [4, -75, 14], [7, -110, 13], [9.8, -140, 13], [12, -118, 13], [14.5, -90, 13], [17, -75, 13], [20, -75, 13], [22.5, -92, 15], [24.2, -111, 24]];
const trendD2Ph: TrendPoint[] = [[1, 5.67, 0.12], [3, 6.0, 0.07], [5, 6.27, 0.05], [7, 6.5, 0.04], [9.5, 6.69, 0.04], [12, 6.77, 0.04], [14, 6.8, 0.04], [17, 6.78, 0.04], [20, 6.8, 0.04], [22, 6.9, 0.05], [24.2, 7.04, 0.08]];

const trendECod: TrendPoint[] = [[0.5, 2.34, 0.15], [2, 2.55, 0.08], [4, 2.8, 0.06], [6, 2.95, 0.05], [8, 3.05, 0.04], [10, 3.1, 0.04], [13, 3.12, 0.04], [16, 3.1, 0.04], [18, 3.03, 0.05], [20.2, 2.84, 0.09]];
const trendEBod: TrendPoint[] = [[0.5, 2.03, 0.18], [2, 2.25, 0.1], [4, 2.42, 0.08], [6, 2.5, 0.07], [8, 2.55, 0.07], [10, 2.56, 0.07], [11, 2.48, 0.07], [12.5, 2.3, 0.07], [14, 2.2, 0.07], [16, 2.08, 0.07], [18, 1.95, 0.08], [20.2, 1.77, 0.12]];
const trendERedox: TrendPoint[] = [[0.5, -22, 30], [2, -60, 20], [4, -100, 16], [6, -130, 15], [8, -143, 15], [10, -125, 15], [12, -112, 15], [14, -122, 15], [16, -135, 15], [18, -136, 16], [20.2, -132, 25]];
const trendEPh: TrendPoint[] = [[0.5, 5.88, 0.12], [2, 6.0, 0.07], [4, 6.22, 0.06], [6, 6.47, 0.05], [8, 6.75, 0.05], [10, 6.85, 0.05], [12, 6.82, 0.05], [14, 6.78, 0.05], [16, 6.8, 0.05], [18, 6.95, 0.06], [20.2, 7.28, 0.1]];

const trendF1Cod: TrendPoint[] = [[0, 1.01, 0.25], [1.4, 2.7, 0.15], [2.2, 2.6, 0.12], [3.2, 2.5, 0.1], [4.2, 2.5, 0.1], [5.2, 2.5, 0.14]];
const trendF1Bod: TrendPoint[] = [[0.1, 0.55, 0.3], [1.3, 2.48, 0.2], [2.9, 1.95, 0.15], [4, 2.02, 0.12], [5.2, 2.0, 0.18]];
const trendF1Redox: TrendPoint[] = [[0.3, -30, 40], [1.2, -75, 30], [2.1, -111, 25], [3, -95, 25], [3.6, -85, 25], [4.3, -102, 25], [5, -119, 30]];
const trendF1Ph: TrendPoint[] = [[0, 8.65, 0.35], [0.8, 7.4, 0.2], [1.5, 6.78, 0.15], [2.2, 7.05, 0.12], [2.8, 7.2, 0.12], [3.6, 7.1, 0.12], [4.4, 7.15, 0.12], [5.2, 7.36, 0.18]];

const trendF2Cod: TrendPoint[] = [[0.2, 2.31, 0.2], [0.9, 2.42, 0.15], [1.4, 2.55, 0.15], [1.8, 2.73, 0.15], [2.2, 2.56, 0.15], [2.7, 2.62, 0.2]];
const trendF2Bod: TrendPoint[] = [[0.2, 1.75, 0.3], [0.8, 1.85, 0.2], [1.2, 2.2, 0.2], [1.7, 1.85, 0.2], [2.1, 2.3, 0.2], [2.7, 2.05, 0.3]];
const trendF2Redox: TrendPoint[] = [[0.2, -33, 50], [0.6, -60, 40], [0.9, -77, 35], [1.5, -75, 35], [1.9, -120, 35], [2.2, -152, 40], [2.5, -70, 45], [2.7, -6, 55]];
const trendF2Ph: TrendPoint[] = [[0.1, 5.85, 0.4], [0.5, 6.8, 0.25], [0.9, 7.25, 0.2], [1.3, 7.05, 0.2], [1.6, 7.0, 0.2], [2.1, 7.15, 0.2], [2.7, 7.34, 0.25]];

const cellSamples: Sample[][] = [cellA, cellB, cellC, cellD1, cellD2, cellE, cellF1, cellF2];
const cellTrends: TrendPoint[][][] = [
  [trendACod, trendABod, trendARedox, trendAPh],
  [trendBCod, trendBBod, trendBRedox, trendBPh],
  [trendCCod, trendCBod, trendCRedox, trendCPh],
  [trendD1Cod, trendD1Bod, trendD1Redox, trendD1Ph],
  [trendD2Cod, trendD2Bod, trendD2Redox, trendD2Ph],
  [trendECod, trendEBod, trendERedox, trendEPh],
  [trendF1Cod, trendF1Bod, trendF1Redox, trendF1Ph],
  [trendF2Cod, trendF2Bod, trendF2Redox, trendF2Ph],
];

// Facet grid geometry (page pixels)
const PANEL_X0 = 64.3;
const COL_PITCH = 146.1;
const PANEL_W = 144;
const ROW_TOPS = [42, 209.2, 376.4, 543.6];
const PANEL_H = 163.5;
const AXIS_W = 60;
const AXIS_H = 30;
const TOP_PAD = 10;
const STRIP_TOP = 26;
const STRIP_H = 16;

const TICK_COLOR = '#4d4d4d';
const TEXT_COLOR = '#1a1a1a';

const fmtTick = (v: number) => (v < 0 ? '\u2212' + Math.abs(v) : String(v));

const XTick = (props: any) => (
  <text x={props.x} y={props.y + 4} textAnchor="middle" dominantBaseline="central" fontSize={14} fontFamily={FONT} fill={TICK_COLOR}>
    {fmtTick(props.payload.value)}
  </text>
);

const YTick = (props: any) => (
  <text x={props.x} y={props.y} textAnchor="end" dominantBaseline="central" fontSize={14} fontFamily={FONT} fill={TICK_COLOR}>
    {fmtTick(props.payload.value)}
  </text>
);

function Panel({ row, col }: { row: number; col: number }) {
  const color = cellColors[col];
  const points = cellSamples[col]
    .filter((s) => s[row + 1] !== null)
    .map((s) => ({ x: s[0], y: s[row + 1] as number }));
  const trend = cellTrends[col][row].map(([x, y, w]) => ({ x, y, band: [y - w, y + w] }));
  const left = PANEL_X0 + col * COL_PITCH;
  const top = ROW_TOPS[row];
  const showY = col === 0;
  const showX = row === 3;
  const w = AXIS_W + PANEL_W;
  const h = TOP_PAD + PANEL_H + AXIS_H;
  return (
    <div style={{ position: 'absolute', left: left - AXIS_W, top: top - TOP_PAD, width: w, height: h }}>
      <ComposedChart width={w} height={h} margin={{ top: TOP_PAD, right: 0, bottom: 0, left: 0 }}>
        <XAxis
          type="number"
          dataKey="x"
          domain={yearDomain}
          ticks={yearTicks}
          allowDataOverflow
          height={AXIS_H}
          axisLine={{ stroke: '#000', strokeWidth: 1.6 }}
          tickLine={{ stroke: '#7f7f7f', strokeWidth: 0.8 }}
          tickSize={3}
          tickMargin={2}
          tick={showX ? XTick : false}
          interval={0}
        />
        <YAxis
          type="number"
          dataKey="y"
          domain={measureDomains[row]}
          ticks={measureTicks[row]}
          allowDataOverflow
          width={AXIS_W}
          axisLine={{ stroke: '#000', strokeWidth: 1.6 }}
          tickLine={false}
          tickSize={2}
          tickMargin={2}
          tick={showY ? YTick : false}
          interval={0}
        />
        <Scatter
          data={points}
          dataKey="y"
          isAnimationActive={false}
          zIndex={600}
          shape={(p: any) => <circle cx={p.cx} cy={p.cy} r={1.85} fill={color} />}
        />
        <Area
          data={trend}
          dataKey="band"
          type="monotone"
          stroke="none"
          fill="#999999"
          fillOpacity={0.4}
          isAnimationActive={false}
          dot={false}
          activeDot={false}
          zIndex={700}
        />
        <Line
          data={trend}
          dataKey="y"
          type="monotone"
          stroke="#000"
          strokeWidth={1.2}
          dot={false}
          activeDot={false}
          isAnimationActive={false}
          zIndex={800}
        />
      </ComposedChart>
    </div>
  );
}

export default function App() {
  const rows = [0, 1, 2, 3];
  const cols = cellNames.map((_, i) => i);
  return (
    <div style={{ position: 'absolute', left: 0, top: 0, width: 1221, height: 738, background: '#fff', fontFamily: FONT, overflow: 'hidden' }}>
      <div style={{ position: 'absolute', left: 624, top: 12, transform: 'translate(-50%, -50%)', whiteSpace: 'nowrap', fontSize: 14.4, fontWeight: 'bold', color: '#000' }}>
        Redox potential, COD, BOD, and pH in a landfill from the NE United States
      </div>

      {cols.map((c) => (
        <div
          key={'strip' + c}
          style={{
            position: 'absolute', left: PANEL_X0 + c * COL_PITCH, top: STRIP_TOP, width: PANEL_W, height: STRIP_H,
            background: '#d9d9d9', color: TEXT_COLOR, fontSize: 14, lineHeight: STRIP_H + 'px', textAlign: 'center',
          }}
        >
          {cellNames[c]}
        </div>
      ))}

      {rows.map((r) =>
        cols.map((c) => (
          <div
            key={'frame' + r + '-' + c}
            style={{
              position: 'absolute', left: PANEL_X0 + c * COL_PITCH, top: ROW_TOPS[r], width: PANEL_W, height: PANEL_H,
              boxSizing: 'border-box', border: '1px solid #8c8c8c', borderTop: r === 0 ? 'none' : '1px solid #8c8c8c',
            }}
          />
        ))
      )}

      {rows.map((r) => cols.map((c) => <Panel key={'p' + r + '-' + c} row={r} col={c} />))}

      {rows.map((r) => (
        <div
          key={'ytitle' + r}
          style={{
            position: 'absolute', left: 20, top: ROW_TOPS[r] + PANEL_H / 2, transform: 'translate(-50%, -50%) rotate(-90deg)',
            whiteSpace: 'nowrap', fontSize: 14, color: TEXT_COLOR,
          }}
        >
          {measureTitles[r]}
        </div>
      ))}

      <div style={{ position: 'absolute', left: 648, top: 731, transform: 'translate(-50%, -50%)', whiteSpace: 'nowrap', fontSize: 14, color: TEXT_COLOR }}>
        Years elapsed
      </div>
    </div>
  );
}
